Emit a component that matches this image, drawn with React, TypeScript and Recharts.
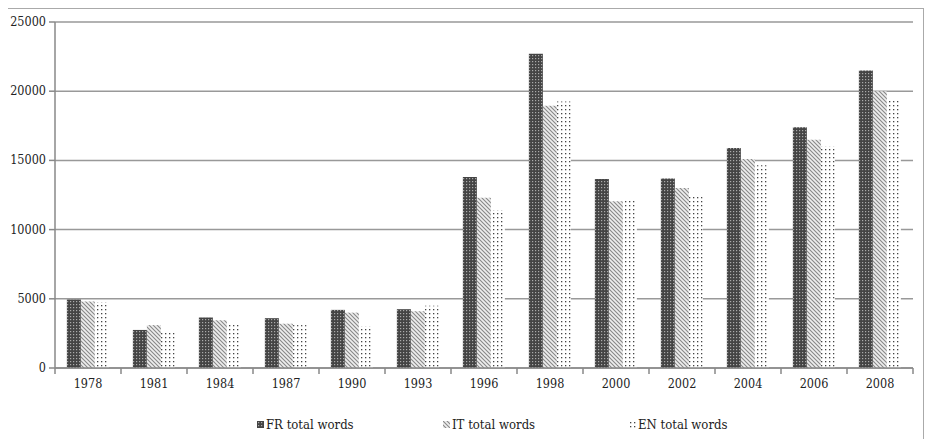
import React from 'react';
import { BarChart, Bar, XAxis, YAxis, CartesianGrid, Legend } from 'recharts';

const years = ['1978', '1981', '1984', '1987', '1990', '1993', '1996', '1998', '2000', '2002', '2004', '2006', '2008'];
const frWords = [4950, 2750, 3650, 3600, 4200, 4250, 13800, 22700, 13650, 13700, 15900, 17400, 21500];
const itWords = [4800, 3100, 3450, 3200, 4000, 4100, 12300, 18950, 12050, 13000, 15100, 16500, 20000];
const enWords = [4750, 2600, 3150, 3100, 3000, 4500, 11400, 19250, 12150, 12500, 14650, 16000, 19300];
const yTicks = [0, 5000, 10000, 15000, 20000, 25000];

const series = [
  { key: 'fr', name: 'FR total words', fill: 'url(#patFR)' },
  { key: 'it', name: 'IT total words', fill: 'url(#patIT)' },
  { key: 'en', name: 'EN total words', fill: 'url(#patEN)' },
];

const data = years.map((year, i) => ({
  year,
  fr: frWords[i],
  it: itWords[i],
  en: enWords[i],
}));

const FONT = '"DejaVu Serif Condensed", "DejaVu Serif", serif';
const BAND = (913 - 55) / years.length;

const YearTick = (props: any) => {
  const { x, y, payload, index } = props;
  const left = x - BAND / 2;
  return (
    <g>
      <line x1={left} y1={y - 8} x2={left} y2={y - 2} stroke="#888" strokeWidth={1.5} />
      {index === years.length - 1 && (
        <line x1={x + BAND / 2} y1={y - 8} x2={x + BAND / 2} y2={y - 2} stroke="#888" strokeWidth={1.5} />
      )}
      <text x={x} y={y + 12} textAnchor="middle" style={{ fontFamily: FONT, fontStretch: 'condensed' }} fontSize={12.5} fill="#222">
        {payload.value}
      </text>
    </g>
  );
};

const LegendContent = () => (
  <div style={{ position: 'relative', height: 20 }}>
    {series.map((s, i) => (
      <div
        key={s.key}
        style={{
          position: 'absolute',
          left: i * 186,
          top: 0,
          display: 'flex',
          alignItems: 'center',
          fontFamily: FONT,
          fontStretch: 'condensed',
          fontSize: 13,
          color: '#222',
          whiteSpace: 'nowrap',
        }}
      >
        <svg width={7} height={7} style={{ marginRight: 2 }}>
          <rect width={7} height={7} fill={s.fill} />
        </svg>
        {s.name}
      </div>
    ))}
  </div>
);

const YTick = (props: any) => {
  const { x, y, payload } = props;
  return (
    <text x={x - 1} y={y + 4} textAnchor="end" style={{ fontFamily: FONT, fontStretch: 'condensed' }} fontSize={12.5} fill="#222">
      {payload.value}
    </text>
  );
};

export default function App() {
  return (
    <div style={{ position: 'relative', margin: -8, width: 932, height: 447, overflow: 'hidden', background: '#fff' }}>
      <BarChart
        width={932}
        height={447}
        data={data}
        margin={{ top: 22, right: 19, bottom: 29, left: 0 }}
        barCategoryGap="18%"
        barGap={0}
        style={{ position: 'absolute', left: 0, top: 0 }}
      >
        <defs>
          <pattern id="patFR" width={3} height={3} patternUnits="userSpaceOnUse">
            <rect width={3} height={3} fill="#444" />
            <rect x={1} y={1} width={1.2} height={1.2} fill="#aaa" />
          </pattern>
          <pattern id="patIT" width={4} height={4} patternUnits="userSpaceOnUse">
            <rect width={4} height={4} fill="#eee" />
            <path d="M0,0 L4,4 M-1,3 L1,5 M3,-1 L5,1" stroke="#888" strokeWidth={1.1} />
          </pattern>
          <pattern id="patEN" width={4} height={4} patternUnits="userSpaceOnUse">
            <rect width={4} height={4} fill="#fff" />
            <rect x={1} y={1} width={1.3} height={1.3} fill="#444" />
          </pattern>
        </defs>
        <CartesianGrid vertical={false} stroke="#999" strokeWidth={1.5} />
        <XAxis
          dataKey="year"
          tick={<YearTick />}
          tickLine={false}
          axisLine={{ stroke: '#888', strokeWidth: 1.5 }}
          interval={0}
          height={30}
        />
        <YAxis
          ticks={yTicks}
          domain={[0, 25000]}
          width={55}
          axisLine={{ stroke: '#888', strokeWidth: 1.5 }}
          tickLine={{ stroke: '#888', strokeWidth: 1.5 }}
          tickSize={6}
          tick={<YTick />}
        />
        <Legend
          content={<LegendContent />}
          verticalAlign="bottom"
          height={20}
          wrapperStyle={{ left: 257, top: 417, width: 600, bottom: 'auto' }}
        />
        {series.map((s) => (
          <Bar key={s.key} dataKey={s.key} name={s.name} fill={s.fill} isAnimationActive={false} />
        ))}
      </BarChart>
      <div
        style={{
          position: 'absolute',
          left: 4,
          top: 7,
          width: 917,
          height: 460,
          border: '2px solid #aaa',
          pointerEvents: 'none',
          zIndex: 2,
        }}
      />
    </div>
  );
}
